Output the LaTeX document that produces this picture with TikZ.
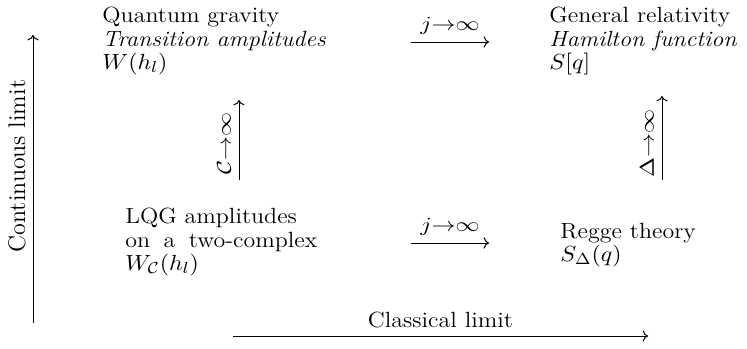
\documentclass[tikz,border=0pt]{standalone}
\usepackage{amsmath,amssymb}
\usepackage{tikz}
\usetikzlibrary{arrows.meta,positioning}

\begin{document}
\begin{tikzpicture}[x=0.5pt,y=-0.5pt,
  txt/.style={anchor=west,inner sep=0pt,align=left,xscale=1.09,font=\fontsize{11}{11.6}\selectfont},
  lab/.style={inner sep=0pt,xscale=1.2},
  vlab/.style={inner sep=0pt,rotate=90,xscale=1.2},
  axlab/.style={inner sep=0pt,xscale=1.09,font=\fontsize{11}{11.6}\selectfont},
  lim/.style={->,line width=0.5pt}]
\useasboundingbox (0,0) rectangle (747,348);
% the four theories
\node[txt] (qg) at (102,41) {Quantum gravity\\ \textit{Transition amplitudes}\\ $W(h_l)$};
\node[txt] (gr) at (549,41) {General relativity\\ \textit{Hamilton function}\\ $S[q]$};
\node[txt] (lqg) at (125,242) {LQG amplitudes\\ \makebox[88pt][s]{on a two-complex}\\ $W_{\mathcal{C}}(h_l)$};
\node[txt] (regge) at (560,245) {Regge theory\\ $S_{\Delta}(q)$};
% limits between them
\coordinate (qg-e) at (411,42);
\coordinate (gr-w) at (489,42);
\draw[lim] (qg-e) -- (gr-w) node[midway,above=3.5pt,lab] (jtop) {$j{\to}\infty$};
\coordinate (lqg-e) at (411,243);
\coordinate (regge-w) at (489,243);
\draw[lim] (lqg-e) -- (regge-w) node[midway,above=3.5pt,lab] (jbot) {$j{\to}\infty$};
\coordinate (lqg-n) at (239,180);
\coordinate (qg-s) at (239,100);
\draw[lim] (lqg-n) -- (qg-s);
\node[vlab] (cinf) at (224,143) {$\mathcal{C}{\to}\infty$};
\coordinate (regge-n) at (662,180);
\coordinate (gr-s) at (662,96);
\draw[lim] (regge-n) -- (gr-s);
\node[vlab] (dinf) at (647,143) {$\Delta{\to}\infty$};
% axes
\coordinate (cont-s) at (33,323);
\coordinate (cont-n) at (33,35);
\draw[lim] (cont-s) -- (cont-n);
\node[axlab,rotate=90,xscale=1.09] (cont) at (17,166) {Continuous limit};
\coordinate (class-w) at (233,336);
\coordinate (class-e) at (648,336);
\draw[lim] (class-w) -- (class-e) node[midway,above=4pt,axlab] (class) {Classical limit};
\end{tikzpicture}
\end{document}
